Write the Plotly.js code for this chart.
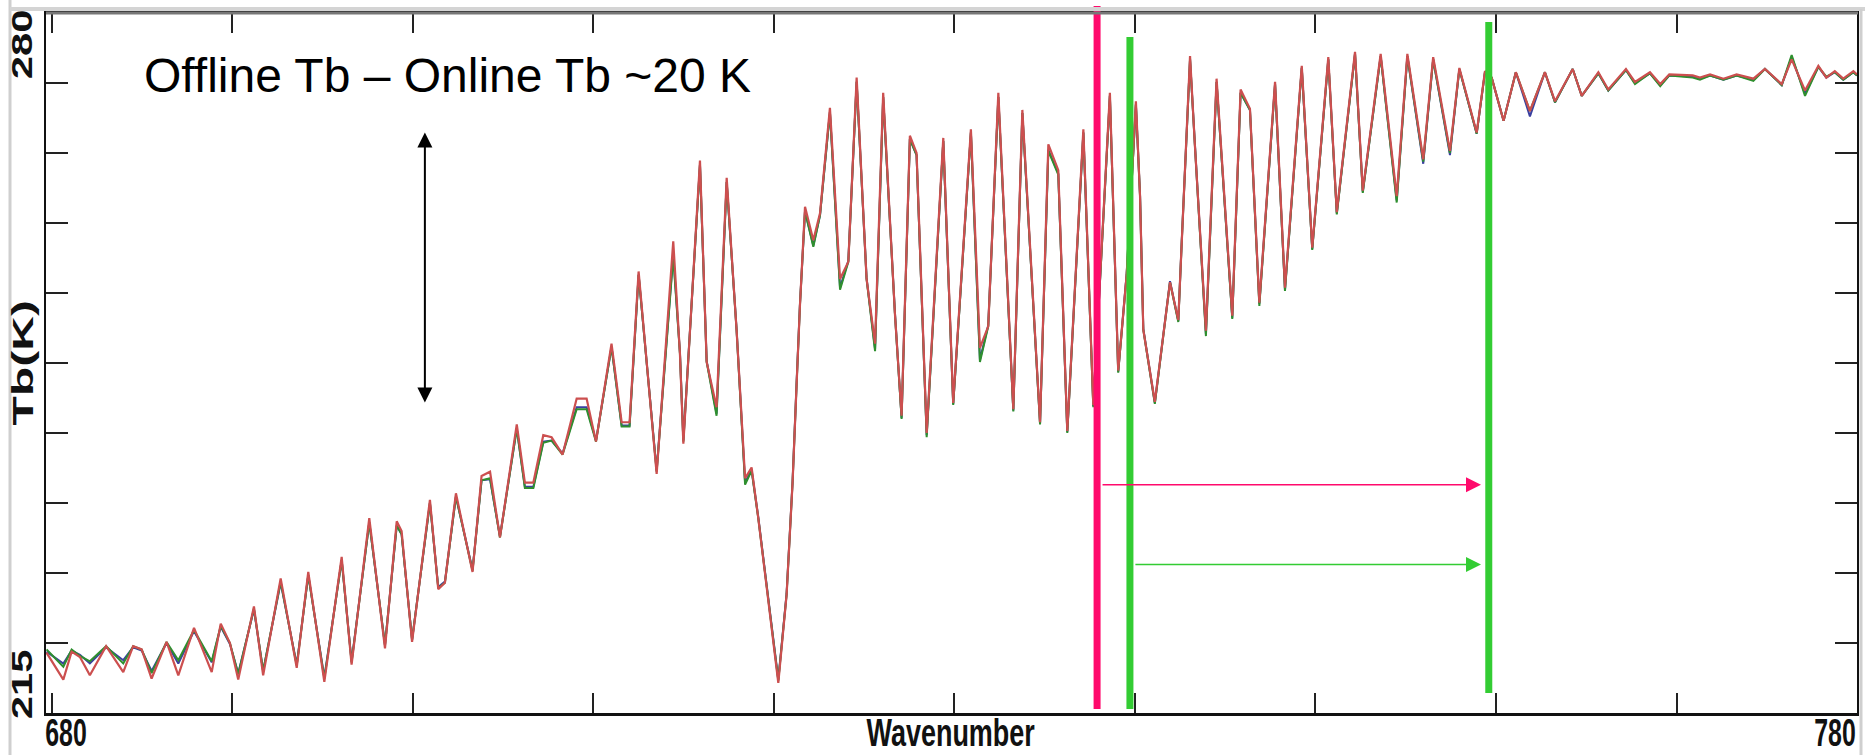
<!DOCTYPE html>
<html>
<head>
<meta charset="utf-8">
<script src="https://cdn.plot.ly/plotly-3.0.1.min.js"></script>
<style>html,body{margin:0;padding:0;background:#fff;}#chart{width:1865px;height:755px;}</style>
</head>
<body>
<div id="chart"></div>
<script>
// Wavenumber (cm-1)
var wavenumber = [679.7, 680.63, 681.09, 681.55, 682.1, 683.0, 683.95, 684.5, 684.97, 685.52,
 686.35, 687.0, 687.87, 688.85, 689.35, 689.86, 690.32, 691.19, 691.7, 692.67,
 693.56, 694.2, 695.09, 696.05, 696.6, 697.58, 698.45, 699.1, 699.37, 699.95,
 700.94, 701.4, 701.77, 702.38, 703.3, 703.8, 704.27, 704.82, 705.75, 706.2,
 706.67, 707.22, 707.68, 708.29, 709.07, 709.62, 710.14, 711.0, 711.56, 712.0,
 712.5, 713.04, 713.5, 714.42, 714.79, 714.98, 715.9, 716.27, 716.82, 717.38,
 717.93, 718.4, 718.76, 719.13, 720.24, 720.7, 721.03, 721.25, 721.44, 721.72,
 722.18, 722.55, 723.1, 723.66, 724.12, 724.58, 725.13, 725.6, 726.05, 726.7,
 727.07, 727.53, 727.9, 728.46, 729.38, 729.93, 730.91, 731.41, 731.87, 732.43,
 733.26, 733.76, 734.74, 735.2, 735.75, 736.25, 737.14, 737.69, 738.61, 739.07,
 739.54, 740.05, 740.28, 740.46, 741.1, 741.94, 742.4, 742.59, 743.05, 743.32,
 743.93, 744.52, 745.08, 745.39, 745.85, 746.37, 746.89, 747.76, 748.31, 749.24,
 749.82, 750.71, 751.18, 752.19, 752.62, 753.61, 754.5, 755.09, 755.97, 756.52,
 757.45, 757.97, 758.93, 759.39, 759.76, 760.42, 761.1, 761.88, 762.71, 763.27,
 764.25, 764.75, 765.67, 766.22, 767.2, 767.7, 768.53, 769.1, 769.6, 770.9,
 771.3, 771.86, 772.6, 773.33, 774.26, 774.9, 775.83, 776.38, 777.12, 777.86,
 778.3, 778.77, 779.24, 779.8, 780.0];

// Tb (K), red series
var tbRed = [220.6, 218.1, 220.7, 220.2, 218.5, 221.2, 218.8, 221.2, 220.9, 218.2,
 221.6, 218.5, 222.9, 218.8, 223.3, 221.5, 218.1, 224.9, 218.5, 227.5,
 219.2, 228.1, 217.9, 229.5, 219.5, 233.1, 221.0, 232.8, 231.9, 221.6,
 234.8, 226.5, 227.1, 235.4, 228.1, 237.0, 237.4, 231.3, 241.8, 236.4,
 236.4, 240.8, 240.6, 239.0, 244.2, 244.2, 240.2, 249.3, 242.0, 242.0,
 256.0, 245.6, 237.2, 258.8, 248.4, 240.0, 266.3, 247.6, 243.4, 264.7,
 250.5, 236.8, 237.8, 233.1, 217.8, 226.0, 236.4, 245.4, 252.9, 262.0,
 258.9, 261.4, 271.2, 255.3, 256.9, 274.0, 255.3, 249.3, 272.6, 252.1,
 242.6, 268.6, 267.0, 241.0, 268.4, 243.8, 269.2, 248.9, 250.9, 272.6,
 243.2, 271.0, 242.0, 267.8, 265.4, 241.2, 269.2, 243.6, 272.6, 246.8,
 255.7, 271.8, 263.0, 250.6, 243.9, 255.0, 251.5, 258.7, 276.0, 267.7,
 250.5, 273.9, 259.9, 251.9, 272.9, 271.1, 253.1, 273.6, 254.5, 275.1,
 258.2, 275.9, 261.5, 276.4, 263.5, 276.2, 263.0, 276.2, 266.4, 275.9,
 267.2, 274.9, 268.9, 274.6, 274.0, 270.0, 274.5, 270.9, 274.5, 271.8,
 274.8, 272.3, 274.5, 272.9, 274.8, 273.6, 274.5, 273.4, 274.3, 274.2,
 274.0, 274.3, 273.9, 274.3, 273.9, 274.8, 273.4, 275.7, 272.8, 275.1,
 274.0, 274.6, 273.9, 274.6, 274.3];

// Tb (K), green series
var tbGreen = [220.9, 219.3, 220.9, 220.3, 219.8, 221.2, 219.6, 221.2, 220.9, 218.7,
 221.6, 219.9, 222.7, 219.8, 223.1, 221.5, 218.6, 224.7, 218.9, 227.2,
 219.4, 227.8, 218.2, 229.2, 219.7, 232.7, 221.3, 232.4, 231.6, 221.8,
 234.5, 226.6, 227.1, 235.1, 228.2, 236.6, 236.8, 231.3, 241.4, 235.9,
 235.9, 240.1, 240.3, 239.0, 243.2, 243.2, 240.2, 249.0, 241.6, 241.6,
 255.7, 245.6, 237.4, 257.4, 248.4, 240.2, 265.9, 247.6, 242.6, 264.3,
 250.5, 236.2, 237.5, 233.1, 218.0, 226.0, 236.4, 245.4, 252.9, 261.6,
 258.3, 261.2, 270.8, 254.3, 256.9, 273.6, 255.3, 248.6, 272.2, 252.1,
 242.3, 268.3, 266.8, 240.6, 268.1, 243.6, 268.9, 247.6, 250.9, 272.2,
 243.0, 270.7, 241.8, 267.2, 265.0, 241.0, 268.9, 243.4, 272.3, 246.6,
 255.7, 271.5, 263.0, 250.6, 243.7, 255.0, 251.3, 258.7, 275.7, 267.7,
 250.0, 273.6, 259.9, 251.6, 272.6, 271.0, 252.8, 273.4, 254.2, 274.9,
 258.0, 275.7, 261.3, 276.2, 263.3, 276.0, 262.4, 276.0, 266.2, 275.7,
 267.0, 274.8, 268.8, 274.5, 274.0, 270.0, 274.5, 270.9, 274.5, 271.7,
 274.8, 272.3, 274.4, 272.8, 274.7, 273.4, 274.4, 273.2, 274.2, 274.0,
 273.8, 274.2, 273.8, 274.2, 273.7, 274.8, 273.3, 276.1, 272.3, 275.0,
 274.1, 274.5, 273.8, 274.5, 274.2];

// Tb (K), blue series
var tbBlue = [220.7, 219.6, 220.8, 220.4, 219.6, 221.1, 219.9, 221.1, 220.8, 218.9,
 221.5, 219.6, 222.6, 219.7, 223.0, 221.4, 218.7, 224.6, 218.9, 227.1,
 219.5, 227.8, 218.3, 229.2, 219.8, 232.7, 221.3, 232.4, 231.6, 221.8,
 234.5, 226.7, 227.2, 235.1, 228.3, 236.6, 236.7, 231.4, 241.4, 236.0,
 236.0, 240.2, 240.3, 239.1, 243.4, 243.4, 240.3, 249.0, 241.7, 241.7,
 255.7, 245.7, 237.5, 257.6, 248.5, 240.3, 265.9, 247.7, 242.8, 264.3,
 250.6, 236.4, 237.6, 233.2, 218.1, 226.1, 236.5, 245.5, 253.0, 261.6,
 258.4, 261.2, 270.8, 254.5, 257.0, 273.6, 255.4, 248.8, 272.2, 252.2,
 242.4, 268.3, 266.8, 240.8, 268.1, 243.7, 268.9, 247.8, 251.0, 272.2,
 243.1, 270.7, 241.9, 267.3, 265.1, 241.1, 268.9, 243.5, 272.3, 246.7,
 255.8, 271.5, 263.1, 250.7, 243.8, 255.1, 251.4, 258.8, 275.7, 267.8,
 250.2, 273.6, 260.0, 251.7, 272.6, 271.0, 253.0, 273.4, 254.3, 274.9,
 258.1, 275.7, 261.4, 276.2, 263.4, 276.0, 262.6, 276.0, 266.0, 275.7,
 266.8, 274.8, 268.8, 274.5, 274.0, 270.0, 274.5, 270.4, 274.5, 271.7,
 274.8, 272.3, 274.4, 272.8, 274.7, 273.5, 274.4, 273.3, 274.2, 274.1,
 273.9, 274.2, 273.8, 274.2, 273.8, 274.8, 273.3, 275.9, 272.5, 275.0,
 274.0, 274.5, 273.8, 274.5, 274.2];

var xTickVals = [680, 690, 700, 710, 720, 730, 740, 750, 760, 770, 780];
var yTickVals = [215, 221.5, 228, 234.5, 241, 247.5, 254, 260.5, 267, 273.5, 280];
var xEndLabels = ['680', '780'];
var yEndLabels = ['215', '280'];
var xTitle = 'Wavenumber';
var yTitle = 'Tb(K)';
var noteText = 'Offline Tb \u2013 Online Tb ~20 K';

// annotation anchors (wavenumber / Tb)
var pinkLineWn = 737.9;
var greenLineWn = [739.72, 759.6];
var doubleArrow = {x: 700.66, yTop: 268.9, yBottom: 243.7};
var pinkArrow = {x0: 738.12, x1: 759.17, y: 236.2};
var greenArrow = {x0: 739.94, x1: 759.17, y: 228.8};

var PINK = '#ff0a6c';
var GREEN = '#33cc33';

var traces = [
  {x: wavenumber, y: tbBlue, mode: 'lines', line: {color: '#3a3fa0', width: 2}, hoverinfo: 'skip'},
  {x: wavenumber, y: tbGreen, mode: 'lines', line: {color: '#2e8f2e', width: 2}, hoverinfo: 'skip'},
  {x: wavenumber, y: tbRed, mode: 'lines', line: {color: '#cc4f4f', width: 2.2}, hoverinfo: 'skip'}
];

var L = 46, R = 1857, T = 13, B = 713;
function px(X) { return (X - L) / (R - L); }
function py(Y) { return (B - Y) / (B - T); }

var labelFont = {family: 'Liberation Sans, Arial, sans-serif', size: 30, color: '#111', weight: 'bold'};
var yLabelFont = {family: 'Liberation Sans, Arial, sans-serif', size: 27, color: '#111', weight: 'bold'};

var shapes = [
  {type: 'line', xref: 'x', yref: 'paper', x0: pinkLineWn, x1: pinkLineWn, y0: py(709), y1: py(6), line: {color: PINK, width: 7}},
  {type: 'line', xref: 'x', yref: 'paper', x0: greenLineWn[0], x1: greenLineWn[0], y0: py(709), y1: py(37), line: {color: GREEN, width: 7}},
  {type: 'line', xref: 'x', yref: 'paper', x0: greenLineWn[1], x1: greenLineWn[1], y0: py(693), y1: py(22), line: {color: GREEN, width: 7}},
  // window frame
  {type: 'line', xref: 'paper', yref: 'paper', x0: px(10), x1: px(10), y0: py(755), y1: py(0), line: {color: '#cfcfcf', width: 3}},
  {type: 'line', xref: 'paper', yref: 'paper', x0: px(10), x1: px(1865), y0: py(9), y1: py(9), line: {color: '#d4d4d4', width: 4}},
  {type: 'line', xref: 'paper', yref: 'paper', x0: px(46), x1: px(1858), y0: py(13), y1: py(13), line: {color: '#777', width: 3}},
  {type: 'line', xref: 'paper', yref: 'paper', x0: px(1861), x1: px(1861), y0: py(755), y1: py(9), line: {color: '#cfcfcf', width: 3}}
];

// text stretch per annotation index: [along text, across text]
var textStretch = {};

var annotations = [
  {xref: 'paper', yref: 'paper', x: px(142), y: py(76), xanchor: 'left', yanchor: 'middle', text: noteText, showarrow: false,
   font: {family: 'Liberation Sans, Arial, sans-serif', size: 48, color: '#000'}},
  {xref: 'x', yref: 'y', axref: 'x', ayref: 'y', x: doubleArrow.x, y: doubleArrow.yTop, ax: doubleArrow.x, ay: doubleArrow.yBottom,
   text: '', showarrow: true, arrowhead: 2, startarrowhead: 2, arrowside: 'end+start', arrowsize: 1.5, startarrowsize: 1.5, arrowwidth: 2, arrowcolor: '#000', standoff: 0, startstandoff: 0},
  {xref: 'x', yref: 'y', axref: 'x', ayref: 'y', x: pinkArrow.x1, y: pinkArrow.y, ax: pinkArrow.x0, ay: pinkArrow.y,
   text: '', showarrow: true, arrowhead: 2, arrowsize: 2, arrowwidth: 1.5, arrowcolor: PINK, standoff: 0},
  {xref: 'x', yref: 'y', axref: 'x', ayref: 'y', x: greenArrow.x1, y: greenArrow.y, ax: greenArrow.x0, ay: greenArrow.y,
   text: '', showarrow: true, arrowhead: 2, arrowsize: 2, arrowwidth: 1.5, arrowcolor: GREEN, standoff: 0},
  {xref: 'paper', yref: 'paper', x: px(66), y: py(733), xanchor: 'center', yanchor: 'middle', text: xEndLabels[0], showarrow: false, font: labelFont},
  {xref: 'paper', yref: 'paper', x: px(1835), y: py(733), xanchor: 'center', yanchor: 'middle', text: xEndLabels[1], showarrow: false, font: labelFont},
  {xref: 'paper', yref: 'paper', x: px(951), y: py(733), xanchor: 'center', yanchor: 'middle', text: xTitle, showarrow: false, font: labelFont},
  {xref: 'paper', yref: 'paper', x: px(22), y: py(685), xanchor: 'center', yanchor: 'middle', textangle: -90, text: yEndLabels[0], showarrow: false, font: yLabelFont},
  {xref: 'paper', yref: 'paper', x: px(22), y: py(45), xanchor: 'center', yanchor: 'middle', textangle: -90, text: yEndLabels[1], showarrow: false, font: yLabelFont},
  {xref: 'paper', yref: 'paper', x: px(23), y: py(363), xanchor: 'center', yanchor: 'middle', textangle: -90, text: yTitle, showarrow: false, font: yLabelFont}
];
textStretch[4] = [0.83, 1.27];
textStretch[5] = [0.83, 1.27];
textStretch[6] = [0.9, 1.27];
textStretch[7] = [1.55, 1.1];
textStretch[8] = [1.55, 1.1];
textStretch[9] = [1.78, 1.1];

var layout = {
  width: 1865, height: 755,
  margin: {l: L, r: 1865 - R, t: T, b: 755 - B, pad: 0},
  paper_bgcolor: '#fff', plot_bgcolor: '#fff',
  showlegend: false,
  xaxis: {range: [679.67, 780], tickvals: xTickVals, showticklabels: false, ticks: 'inside', ticklen: 20, tickwidth: 2, tickcolor: '#222',
          showline: true, linecolor: '#111', linewidth: 3, mirror: 'allticks', showgrid: false, zeroline: false, fixedrange: true},
  yaxis: {range: [215, 280], tickvals: yTickVals, showticklabels: false, ticks: 'inside', ticklen: 22, tickwidth: 2, tickcolor: '#222',
          showline: true, linecolor: '#111', linewidth: 2, mirror: 'allticks', showgrid: false, zeroline: false, fixedrange: true},
  shapes: shapes,
  annotations: annotations
};

Plotly.newPlot('chart', traces, layout, {displayModeBar: false, staticPlot: true}).then(function (gd) {
  var groups = gd.querySelectorAll('g.annotation');
  groups.forEach(function (g) {
    var idx = +g.getAttribute('data-index');
    var s = textStretch[idx];
    if (!s) return;
    var t = g.querySelector('text.annotation-text');
    if (!t) return;
    var bb = t.getBBox();
    var cx = bb.x + bb.width / 2, cy = bb.y + bb.height / 2;
    t.setAttribute('transform', 'translate(' + cx + ',' + cy + ') scale(' + s[0] + ',' + s[1] + ') translate(' + (-cx) + ',' + (-cy) + ')');
  });
});
</script>
</body>
</html>
